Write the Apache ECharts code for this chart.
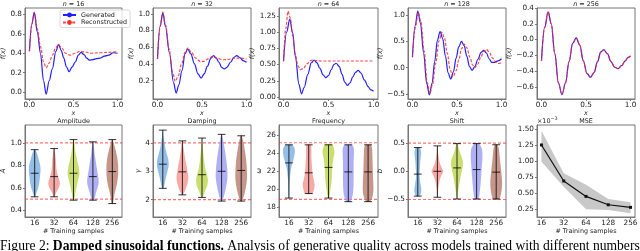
<!DOCTYPE html>
<html><head><meta charset="utf-8">
<script src="https://cdn.jsdelivr.net/npm/echarts@6/dist/echarts.min.js"></script>
<style>html,body{margin:0;padding:0;background:#fff}#c{width:640px;height:251px}</style>
</head><body><div id="c"></div>
<script>
// ---------------- DATA ----------------
const sampleLabels = ['16', '32', '64', '128', '256'];
const topTitles = ['16', '32', '64', '128', '256'];
const bottomTitles = ['Amplitude', 'Damping', 'Frequency', 'Shift', 'MSE'];
const bottomYNames = ['A', 'γ', 'ω', 'b', ''];

// top row curves [x, f(x)]
const gen16 = [[0,0.42],[0.028,0.70],[0.055,0.82],[0.09,0.62],[0.125,0.40],[0.16,0.12],[0.19,-0.02],[0.225,0.12],[0.26,0.24],[0.30,0.42],[0.33,0.49],[0.36,0.43],[0.39,0.35],[0.42,0.26],[0.45,0.21],[0.485,0.26],[0.52,0.31],[0.555,0.38],[0.585,0.41],[0.62,0.385],[0.65,0.35],[0.68,0.33],[0.72,0.335],[0.76,0.345],[0.80,0.35],[0.85,0.37],[0.90,0.38],[0.95,0.405],[1.0,0.40]];
const rec16 = [[0,0.42],[0.028,0.70],[0.055,0.82],[0.09,0.65],[0.125,0.47],[0.16,0.31],[0.19,0.25],[0.225,0.30],[0.26,0.38],[0.30,0.46],[0.33,0.49],[0.37,0.45],[0.41,0.40],[0.46,0.38],[0.52,0.40],[0.57,0.42],[0.62,0.415],[0.70,0.40],[0.80,0.405],[0.90,0.41],[1.0,0.415]];
const gen32 = [[0,0.46],[0.03,0.85],[0.06,1.01],[0.09,0.85],[0.135,0.53],[0.18,0.18],[0.21,0.05],[0.24,0.15],[0.275,0.32],[0.31,0.52],[0.34,0.58],[0.375,0.52],[0.415,0.40],[0.455,0.28],[0.49,0.23],[0.525,0.28],[0.56,0.37],[0.60,0.47],[0.63,0.50],[0.66,0.47],[0.69,0.42],[0.72,0.36],[0.75,0.34],[0.78,0.36],[0.82,0.42],[0.86,0.48],[0.89,0.50],[0.92,0.48],[0.96,0.44],[1.0,0.42]];
const rec32 = [[0,0.46],[0.03,0.85],[0.06,1.02],[0.09,0.87],[0.13,0.58],[0.17,0.30],[0.20,0.19],[0.235,0.26],[0.27,0.40],[0.31,0.54],[0.34,0.59],[0.38,0.54],[0.43,0.47],[0.48,0.43],[0.52,0.43],[0.57,0.46],[0.62,0.49],[0.67,0.47],[0.73,0.45],[0.80,0.455],[0.86,0.47],[0.92,0.47],[1.0,0.46]];
const gen64 = [[0,0.55],[0.035,1.00],[0.07,1.20],[0.10,1.0],[0.135,0.60],[0.17,0.20],[0.20,0.05],[0.23,0.15],[0.27,0.35],[0.31,0.53],[0.34,0.57],[0.37,0.53],[0.405,0.44],[0.44,0.34],[0.47,0.30],[0.50,0.33],[0.53,0.42],[0.56,0.50],[0.585,0.52],[0.62,0.47],[0.65,0.35],[0.68,0.23],[0.71,0.18],[0.74,0.22],[0.77,0.31],[0.80,0.38],[0.83,0.41],[0.86,0.37],[0.90,0.26],[0.94,0.16],[0.97,0.11],[1.0,0.09]];
const rec64 = [[0,0.55],[0.025,1.05],[0.05,1.32],[0.075,1.22],[0.10,0.95],[0.13,0.67],[0.16,0.48],[0.19,0.42],[0.22,0.44],[0.26,0.51],[0.30,0.56],[0.32,0.57],[0.36,0.56],[0.42,0.555],[0.5,0.555],[0.7,0.555],[1.0,0.555]];
const gen128 = [[0,0.20],[0.03,0.80],[0.06,1.08],[0.09,0.85],[0.125,0.28],[0.16,-0.30],[0.19,-0.52],[0.22,-0.30],[0.25,0.12],[0.28,0.52],[0.31,0.69],[0.34,0.55],[0.37,0.22],[0.40,-0.10],[0.43,-0.22],[0.46,-0.08],[0.49,0.18],[0.52,0.40],[0.55,0.50],[0.58,0.42],[0.61,0.22],[0.64,0.02],[0.67,-0.05],[0.70,0.02],[0.735,0.16],[0.77,0.29],[0.80,0.33],[0.83,0.28],[0.86,0.17],[0.89,0.10],[0.92,0.10],[0.96,0.13],[1.0,0.17]];
const rec128 = [[0,0.20],[0.03,0.75],[0.065,1.05],[0.095,0.88],[0.13,0.32],[0.165,-0.28],[0.195,-0.50],[0.225,-0.32],[0.26,0.08],[0.30,0.52],[0.33,0.68],[0.36,0.56],[0.39,0.28],[0.425,-0.05],[0.455,-0.18],[0.49,-0.06],[0.52,0.15],[0.55,0.36],[0.58,0.45],[0.61,0.38],[0.645,0.20],[0.675,0.05],[0.70,0.00],[0.73,0.06],[0.77,0.21],[0.80,0.31],[0.83,0.35],[0.86,0.30],[0.90,0.18],[0.94,0.10],[0.97,0.08],[1.0,0.09]];
const gen256 = [[0,-0.27],[0.035,0.15],[0.075,0.35],[0.11,0.20],[0.15,-0.18],[0.19,-0.55],[0.23,-0.70],[0.27,-0.55],[0.31,-0.28],[0.35,-0.05],[0.39,0.02],[0.43,-0.07],[0.47,-0.27],[0.51,-0.43],[0.55,-0.48],[0.59,-0.42],[0.63,-0.28],[0.665,-0.16],[0.70,-0.13],[0.74,-0.18],[0.78,-0.28],[0.82,-0.35],[0.86,-0.37],[0.90,-0.33],[0.94,-0.27],[0.97,-0.23],[1.0,-0.21]];
const rec256 = [[0,-0.27],[0.035,0.15],[0.075,0.35],[0.11,0.20],[0.15,-0.18],[0.19,-0.55],[0.23,-0.70],[0.27,-0.55],[0.31,-0.28],[0.35,-0.05],[0.39,0.02],[0.43,-0.07],[0.47,-0.27],[0.51,-0.43],[0.55,-0.48],[0.59,-0.42],[0.63,-0.28],[0.665,-0.16],[0.70,-0.13],[0.74,-0.18],[0.78,-0.28],[0.82,-0.35],[0.86,-0.37],[0.90,-0.33],[0.94,-0.27],[0.97,-0.23],[1.0,-0.21]];

// top row y ticks
const topYTicks = [[0,0.2,0.4,0.6,0.8],[0.2,0.4,0.6,0.8,1.0],[0,0.25,0.5,0.75,1.0,1.25],[-0.5,0,0.5,1.0],[-0.6,-0.4,-0.2,0,0.2,0.4]];
const xTicksTop = [0, 0.5, 1.0];

// violin profiles: [value, relative width], plus extrema and means
const amplitudeProfiles = [
  [[0.52,0.1],[0.56,0.35],[0.60,0.6],[0.65,0.8],[0.70,0.9],[0.75,1.0],[0.80,0.95],[0.85,0.7],[0.90,0.45],[0.94,0.1]],
  [[0.52,0.1],[0.55,0.3],[0.60,0.8],[0.64,1.0],[0.70,0.7],[0.75,0.45],[0.80,0.35],[0.85,0.3],[0.90,0.2],[0.95,0.05]],
  [[0.49,0.1],[0.55,0.3],[0.60,0.5],[0.65,0.7],[0.72,1.0],[0.78,0.9],[0.85,0.6],[0.90,0.4],[0.95,0.25],[1.03,0.08]],
  [[0.49,0.2],[0.55,0.5],[0.60,0.8],[0.65,1.0],[0.70,0.9],[0.75,0.75],[0.80,0.6],[0.85,0.45],[0.90,0.3],[0.95,0.2],[1.01,0.05]],
  [[0.46,0.1],[0.52,0.3],[0.58,0.55],[0.65,0.85],[0.72,1.0],[0.80,1.0],[0.87,0.85],[0.93,0.6],[0.98,0.35],[1.03,0.05]]
];
const amplitudeMin = [0.52, 0.52, 0.49, 0.49, 0.46];
const amplitudeMax = [0.94, 0.95, 1.03, 1.01, 1.03];
const amplitudeMean = [0.73, 0.70, 0.73, 0.70, 0.745];
const amplitudeRef = [1.0, 0.5];

const dampingProfiles = [
  [[2.4,0.1],[2.6,0.35],[2.8,0.55],[3.0,0.8],[3.2,1.0],[3.4,0.95],[3.6,0.7],[3.8,0.45],[4.0,0.3],[4.2,0.15],[4.45,0.03]],
  [[2.17,0.1],[2.4,0.6],[2.6,0.9],[2.8,1.0],[3.0,0.85],[3.2,0.7],[3.4,0.5],[3.6,0.35],[3.8,0.2],[4.07,0.05]],
  [[2.08,0.1],[2.3,0.5],[2.5,0.9],[2.7,1.0],[2.9,0.8],[3.1,0.55],[3.3,0.4],[3.6,0.25],[3.9,0.12],[4.17,0.03]],
  [[1.95,0.1],[2.2,0.5],[2.5,0.8],[2.8,1.0],[3.1,0.95],[3.4,0.8],[3.7,0.6],[4.0,0.35],[4.3,0.05]],
  [[1.95,0.15],[2.2,0.55],[2.5,0.85],[2.8,1.0],[3.1,0.95],[3.4,0.85],[3.7,0.65],[4.0,0.4],[4.25,0.08]]
];
const dampingMin = [2.4, 2.17, 2.08, 1.95, 1.95];
const dampingMax = [4.45, 4.07, 4.17, 4.3, 4.25];
const dampingMean = [3.25, 2.98, 2.88, 3.0, 3.03];
const dampingRef = [4, 2];

const frequencyProfiles = [
  [[19.0,0.05],[20,0.1],[21,0.15],[22,0.3],[22.8,0.55],[23.5,0.85],[24.2,1.0],[24.6,0.9],[24.9,0.5]],
  [[19.5,0.6],[20,0.9],[20.5,1.0],[21,0.85],[21.5,0.7],[22,0.6],[22.5,0.55],[23,0.5],[23.5,0.45],[24,0.45],[24.5,0.45],[24.9,0.35]],
  [[19.0,0.1],[19.8,0.3],[20.5,0.45],[21.2,0.55],[22,0.6],[22.8,0.7],[23.5,0.85],[24.2,1.0],[24.9,0.6]],
  [[18.6,0.3],[19.2,0.7],[20,0.85],[21,0.9],[22,0.9],[23,0.9],[24,0.95],[24.6,0.9],[24.9,0.5]],
  [[18.6,0.3],[19.2,0.75],[20,0.9],[21,0.85],[22,0.8],[23,0.75],[24,0.7],[24.6,0.65],[24.9,0.4]]
];
const frequencyMin = [19.0, 19.5, 19.0, 18.6, 18.6];
const frequencyMax = [24.9, 24.9, 24.9, 24.9, 24.9];
const frequencyMean = [22.9, 21.8, 22.4, 21.9, 21.9];
const frequencyRef = [25.13, 18.85];

const shiftProfiles = [
  [[-0.44,0.3],[-0.35,0.6],[-0.25,0.5],[-0.15,0.35],[-0.05,0.3],[0.05,0.35],[0.15,0.4],[0.25,0.5],[0.35,0.55],[0.42,0.3]],
  [[-0.46,0.05],[-0.3,0.15],[-0.15,0.4],[-0.05,0.8],[0.0,1.0],[0.05,0.8],[0.15,0.4],[0.3,0.15],[0.45,0.05]],
  [[-0.49,0.05],[-0.35,0.2],[-0.2,0.45],[-0.05,0.7],[0.1,1.0],[0.2,0.95],[0.3,0.6],[0.4,0.3],[0.49,0.1]],
  [[-0.49,0.3],[-0.35,0.55],[-0.2,0.7],[-0.05,0.8],[0.1,0.9],[0.25,1.0],[0.4,0.9],[0.49,0.4]],
  [[-0.49,0.5],[-0.35,0.9],[-0.2,1.0],[-0.05,0.9],[0.1,0.75],[0.25,0.6],[0.4,0.45],[0.47,0.2]]
];
const shiftMin = [-0.44, -0.46, -0.49, -0.49, -0.49];
const shiftMax = [0.42, 0.45, 0.49, 0.49, 0.47];
const shiftMean = [-0.05, 0.0, 0.06, 0.03, -0.015];
const shiftRef = [0.5, -0.5];

// MSE (in units of 1e-3)
const mseMean = [1.25, 0.69, 0.45, 0.32, 0.28];
const mseLow = [0.99, 0.60, 0.25, 0.24, 0.19];
const mseHigh = [1.47, 0.81, 0.63, 0.41, 0.36];

const bottomYTicks = [[0.4,0.6,0.8,1.0],[2,3,4],[18,20,22,24,26],[-0.5,0,0.5],[0.25,0.5,0.75,1.0,1.25,1.5]];
const violinColors = ['#7aaee0', '#f4938e', '#bcd64a', '#9b9cf0', '#b87c6e'];

// ---------------- LAYOUT / STYLE ----------------
const FONT = 'DejaVu Sans';
const FS_TICK = 7.3, FS_LAB = 6.4;
const FRAME = '#777';
const cols = [[25,97],[153,98],[279,99],[408,98],[537,98]];
const TOP_Y = 8, TOP_H = 91, BOT_Y = 125, BOT_H = 92;
const topYRange = [[-0.07,0.865],[-0.02,1.07],[-0.03,1.37],[-0.6,1.14],[-0.755,0.40]];
const topYDec = [1,1,2,1,1];
const topYGap = [15,17,15,22,21];
const botYRange = [[0.34,1.16],[1.39,4.63],[16.9,27.1],[-0.81,0.82],[0.13,1.56]];
const botYDec = [1,0,0,1,2];
const botYGap = [14,10,15,21,0];

const fmt = d => v => v.toFixed(d).replace('-', '\u2212');

const grids = [], xAxes = [], yAxes = [], series = [], graphics = [];

function addAxes(gi, left, top, width, height, xc, yc) {
  grids.push({left, top, width, height, show: true, borderColor: FRAME, borderWidth: 1,
    backgroundColor: 'transparent', containLabel: false, outerBoundsMode: 'none'});
  xAxes.push({gridIndex: gi, type: 'value', min: xc.min, max: xc.max,
    axisLine: {show: true, onZero: false, lineStyle: {color: FRAME, width: 1}},
    axisTick: {show: true, length: 2, customValues: xc.ticks, lineStyle: {color: FRAME}},
    axisLabel: {customValues: xc.ticks, formatter: xc.fmt, fontSize: FS_TICK, color: '#222', margin: 3, fontFamily: FONT},
    splitLine: {show: false},
    name: xc.name, nameLocation: 'middle', nameGap: xc.gap,
    nameTextStyle: {fontSize: FS_LAB, fontFamily: FONT, color: '#222', fontStyle: xc.italic ? 'italic' : 'normal'}});
  yAxes.push({gridIndex: gi, type: 'value', min: yc.min, max: yc.max,
    axisLine: {show: true, onZero: false, lineStyle: {color: FRAME, width: 1}},
    axisTick: {show: true, length: 2, customValues: yc.ticks, lineStyle: {color: FRAME}},
    axisLabel: {customValues: yc.ticks, formatter: yc.fmt, fontSize: FS_TICK, color: '#222', margin: 3, fontFamily: FONT},
    splitLine: {show: false},
    name: yc.name, nameLocation: 'middle', nameGap: yc.gap, nameRotate: 90,
    nameTextStyle: {fontSize: FS_LAB + 0.4, fontFamily: FONT, color: '#222', fontStyle: 'italic'}});
}

function titleText(cx, cy, text, rich) {
  graphics.push({type: 'text', x: cx, y: cy, silent: true,
    style: {text, rich, fontSize: FS_LAB, fontFamily: FONT, fill: '#222', align: 'center', verticalAlign: 'middle'}});
}

// ---------- top row ----------
const gens = [gen16, gen32, gen64, gen128, gen256];
const recs = [rec16, rec32, rec64, rec128, rec256];
for (let k = 0; k < 5; k++) {
  const [l, w] = cols[k];
  addAxes(k, l, TOP_Y, w, TOP_H,
    {min: -0.05, max: 1.05, ticks: xTicksTop, fmt: fmt(1), name: 'x', gap: 8, italic: true},
    {min: topYRange[k][0], max: topYRange[k][1], ticks: topYTicks[k], fmt: fmt(topYDec[k]), name: 'f(x)', gap: topYGap[k]});
  series.push({name: 'Generated', type: 'line', xAxisIndex: k, yAxisIndex: k, data: gens[k],
    symbol: 'none', smooth: 0.35, smoothMonotone: 'x', z: 2,
    lineStyle: {color: '#1f1fff', width: 1.2}, itemStyle: {color: '#1f1fff'}});
  series.push({name: 'Reconstructed', type: 'line', xAxisIndex: k, yAxisIndex: k, data: recs[k],
    symbol: 'none', smooth: 0.35, smoothMonotone: 'x', z: 3,
    lineStyle: {color: '#ff2a2a', width: 1.2, type: [3, 1.6], opacity: 0.85}, itemStyle: {color: '#ff2a2a'}});
  titleText(l + w / 2, 4, '{i|n} = ' + topTitles[k], {i: {fontStyle: 'italic', fontSize: FS_LAB, fontFamily: FONT}});
}

// ---------- bottom row ----------
const profiles = [amplitudeProfiles, dampingProfiles, frequencyProfiles, shiftProfiles];
const mins = [amplitudeMin, dampingMin, frequencyMin, shiftMin];
const maxs = [amplitudeMax, dampingMax, frequencyMax, shiftMax];
const means = [amplitudeMean, dampingMean, frequencyMean, shiftMean];
const refs = [amplitudeRef, dampingRef, frequencyRef, shiftRef];
const HW = 0.3, CAP = 0.2;

for (let k = 0; k < 5; k++) {
  const gi = 5 + k;
  const [l, w] = cols[k];
  const isMse = k === 4;
  const xmin = isMse ? 0.8 : 0.5, xmax = isMse ? 5.2 : 5.5;
  addAxes(gi, l, BOT_Y, w, BOT_H,
    {min: xmin, max: xmax, ticks: [1,2,3,4,5], fmt: v => sampleLabels[Math.round(v) - 1],
     name: '# Training samples', gap: 10, italic: false},
    {min: botYRange[k][0], max: botYRange[k][1], ticks: bottomYTicks[k], fmt: fmt(botYDec[k]),
     name: bottomYNames[k], gap: botYGap[k]});
  titleText(l + w / 2, 121, bottomTitles[k]);
  if (!isMse) {
    const prof = profiles[k], mn = mins[k], mx = maxs[k], me = means[k];
    // red dashed reference lines
    series.push({type: 'custom', xAxisIndex: gi, yAxisIndex: gi, z: 1, silent: true,
      data: refs[k].map(v => [xmin, v]),
      renderItem: (params, api) => {
        const v = refs[k][params.dataIndex];
        const a = api.coord([xmin, v]), b = api.coord([xmax, v]);
        return {type: 'line', shape: {x1: a[0], y1: a[1], x2: b[0], y2: b[1]},
          style: {stroke: '#ff2a2a', lineWidth: 1.2, lineDash: [3, 2], opacity: 0.65}};
      }});
    series.push({type: 'custom', xAxisIndex: gi, yAxisIndex: gi, z: 3,
      data: me.map((v, i) => [i + 1, v]),
      renderItem: (params, api) => {
        const i = params.dataIndex, pos = i + 1;
        const hwPx = api.coord([pos + HW, 0])[0] - api.coord([pos, 0])[0];
        const right = prof[i].map(([v, d]) => { const p = api.coord([pos, v]); return [p[0] + d * hwPx, p[1]]; });
        const left = prof[i].map(([v, d]) => { const p = api.coord([pos, v]); return [p[0] - d * hwPx, p[1]]; }).reverse();
        const seg = (x1v, x2v, yv) => { const a = api.coord([x1v, yv]), b = api.coord([x2v, yv]);
          return {type: 'line', shape: {x1: a[0], y1: a[1], x2: b[0], y2: b[1]}, style: {stroke: '#000', lineWidth: 1, opacity: 0.8}}; };
        const top = api.coord([pos, mx[i]]), bot = api.coord([pos, mn[i]]);
        return {type: 'group', children: [
          {type: 'polygon', shape: {points: right.concat(left), smooth: 0.3}, style: {fill: violinColors[i], opacity: 0.8}},
          {type: 'line', shape: {x1: top[0], y1: top[1], x2: bot[0], y2: bot[1]}, style: {stroke: '#000', lineWidth: 1, opacity: 0.8}},
          seg(pos - CAP, pos + CAP, mx[i]), seg(pos - CAP, pos + CAP, mn[i]), seg(pos - CAP, pos + CAP, me[i])
        ]};
      }});
  } else {
    series.push({type: 'custom', xAxisIndex: gi, yAxisIndex: gi, z: 1, data: [[1, mseMean[0]]],
      renderItem: (params, api) => {
        const up = mseHigh.map((v, i) => api.coord([i + 1, v]));
        const lo = mseLow.map((v, i) => api.coord([i + 1, v])).reverse();
        return {type: 'polygon', shape: {points: up.concat(lo)}, style: {fill: '#c8c8c8'}};
      }});
    series.push({type: 'line', xAxisIndex: gi, yAxisIndex: gi, z: 3, data: mseMean.map((v, i) => [i + 1, v]),
      symbol: 'rect', symbolSize: 3, lineStyle: {color: '#111', width: 1.2}, itemStyle: {color: '#111'}});
    graphics.push({type: 'text', x: l, y: 121, silent: true,
      style: {text: '×10{s|\u22123}', rich: {s: {fontSize: 4.8, fontFamily: FONT, verticalAlign: 'top', padding: [0,0,4,0]}},
        fontSize: FS_LAB, fontFamily: FONT, fill: '#222', align: 'left', verticalAlign: 'middle'}});
  }
}

// caption
graphics.push({type: 'text', x: 0, y: 246.5, silent: true,
  style: {text: '{r|Figure 2: }{b|Damped sinusoidal functions.}{r| Analysis of generative quality across models trained with different numbers}',
    rich: {r: {fontSize: 13.6, fontFamily: 'Liberation Serif', fill: '#000'},
           b: {fontSize: 13.6, fontFamily: 'Liberation Serif', fontWeight: 'bold', fill: '#000'}},
    fontSize: 13.6, fontFamily: 'Liberation Serif', fill: '#000', align: 'left', verticalAlign: 'middle'}});

const chart = echarts.init(document.getElementById('c'));
chart.setOption({
  animation: false,
  grid: grids, xAxis: xAxes, yAxis: yAxes, series,
  legend: {data: ['Generated', 'Reconstructed'], left: 60, top: 10, orient: 'vertical',
    itemWidth: 13, itemHeight: 6, itemGap: 1.5, padding: [2, 3, 2, 2],
    textStyle: {fontSize: FS_LAB, fontFamily: FONT, color: '#222'},
    borderColor: '#d0d0d0', borderWidth: 0.8, borderRadius: 2, backgroundColor: 'rgba(255,255,255,0.8)'},
  graphic: graphics
});
</script></body></html>
